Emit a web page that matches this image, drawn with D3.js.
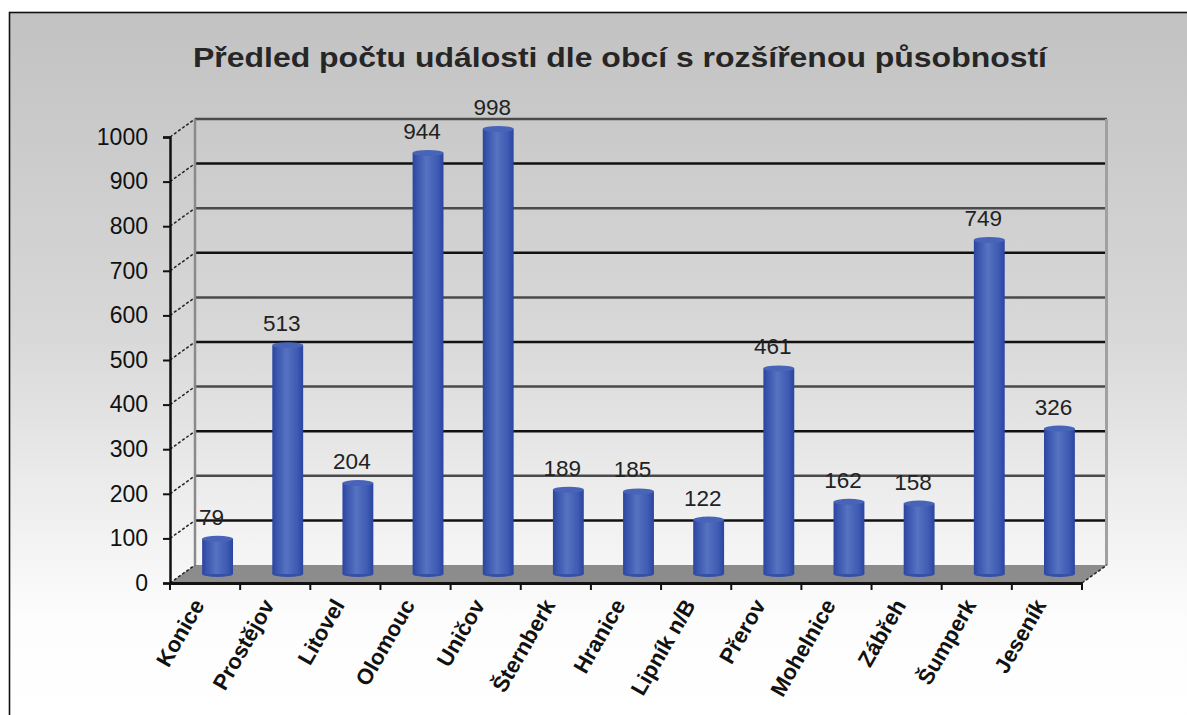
<!DOCTYPE html>
<html>
<head>
<meta charset="utf-8">
<script src="https://cdn.jsdelivr.net/npm/d3@7"></script>
<style>
  body { margin: 0; background: #fff; }
  svg text { font-family: Arial, "Liberation Sans", sans-serif; }
</style>
</head>
<body>
<script>
const title = "Předled počtu události dle obcí s rozšířenou působností";
const categories = ["Konice", "Prostějov", "Litovel", "Olomouc", "Uničov", "Šternberk", "Hranice",
  "Lipník n/B", "Přerov", "Mohelnice", "Zábřeh", "Šumperk", "Jeseník"];
const values = [79, 513, 204, 944, 998, 189, 185, 122, 461, 162, 158, 749, 326];
const yTicks = [0, 100, 200, 300, 400, 500, 600, 700, 800, 900, 1000];

const W = 1187, H = 715;
const plotLeft = 170, plotRight = 1082, plotBottom = 583, plotTop = 137;
const depth = { dx: 25, dy: -18 };

const svg = d3.select("body").append("svg")
  .attr("width", W)
  .attr("height", H);

const defs = svg.append("defs");
const bg = defs.append("linearGradient").attr("id", "bg")
  .attr("x1", 0).attr("y1", 0).attr("x2", 0).attr("y2", 1);
bg.append("stop").attr("offset", "0%").attr("stop-color", "#c2c2c2");
bg.append("stop").attr("offset", "45%").attr("stop-color", "#d8d8d8");
bg.append("stop").attr("offset", "85%").attr("stop-color", "#fdfdfd");
bg.append("stop").attr("offset", "100%").attr("stop-color", "#ffffff");

const cyl = defs.append("linearGradient").attr("id", "cyl")
  .attr("x1", 0).attr("y1", 0).attr("x2", 1).attr("y2", 0);
cyl.append("stop").attr("offset", "0%").attr("stop-color", "#2c45a0");
cyl.append("stop").attr("offset", "15%").attr("stop-color", "#3a56ae");
cyl.append("stop").attr("offset", "45%").attr("stop-color", "#5672c0");
cyl.append("stop").attr("offset", "80%").attr("stop-color", "#3f5bb3");
cyl.append("stop").attr("offset", "100%").attr("stop-color", "#2a44a0");

// chart area background and frame
svg.append("rect")
  .attr("x", 9.5).attr("y", 12.5)
  .attr("width", W).attr("height", H)
  .attr("fill", "url(#bg)")
  .attr("stroke", "#111")
  .attr("stroke-width", 1.6);

svg.append("text")
  .attr("x", 620).attr("y", 67)
  .attr("text-anchor", "middle")
  .attr("font-size", 27)
  .attr("font-weight", "bold")
  .attr("fill", "#262626")
  .attr("textLength", 854)
  .attr("lengthAdjust", "spacingAndGlyphs")
  .text(title);

// Scales
const x = d3.scaleBand().domain(categories).range([plotLeft, plotRight]).padding(0);
const y = d3.scaleLinear().domain([0, 1000]).range([plotBottom, plotTop]);

// floor
svg.append("polygon")
  .attr("points", [[plotLeft, plotBottom], [plotRight, plotBottom],
    [plotRight + depth.dx, plotBottom + depth.dy], [plotLeft + depth.dx, plotBottom + depth.dy]].join(" "))
  .attr("fill", "#8c8c8c");

// back wall gridlines
svg.append("g")
  .selectAll("line")
  .data(yTicks.filter((d) => d > 0))
  .enter()
  .append("line")
  .attr("x1", plotLeft + depth.dx)
  .attr("x2", plotRight + depth.dx)
  .attr("y1", (d) => y(d) + depth.dy)
  .attr("y2", (d) => y(d) + depth.dy)
  .attr("stroke", (d, i) => (i % 2 === 0 ? "#111" : "#4a4a4a"))
  .attr("stroke-width", 2.5);

// side wall diagonals
svg.append("g")
  .selectAll("line")
  .data(yTicks)
  .enter()
  .append("line")
  .attr("x1", plotLeft)
  .attr("x2", plotLeft + depth.dx)
  .attr("y1", (d) => y(d))
  .attr("y2", (d) => y(d) + depth.dy)
  .attr("stroke", "#222")
  .attr("stroke-width", 1.5)
  .attr("stroke-dasharray", "3,2");

// wall edges
svg.append("line")
  .attr("x1", plotLeft + depth.dx).attr("x2", plotLeft + depth.dx)
  .attr("y1", y(1000) + depth.dy).attr("y2", plotBottom + depth.dy)
  .attr("stroke", "#8a8a8a").attr("stroke-width", 2.5);
svg.append("line")
  .attr("x1", plotRight + depth.dx - 0.5).attr("x2", plotRight + depth.dx - 0.5)
  .attr("y1", y(1000) + depth.dy).attr("y2", plotBottom + depth.dy)
  .attr("stroke", "#a0a0a0").attr("stroke-width", 3);
svg.append("line")
  .attr("x1", plotRight).attr("x2", plotRight + depth.dx)
  .attr("y1", plotBottom).attr("y2", plotBottom + depth.dy)
  .attr("stroke", "#222").attr("stroke-width", 1.5)
  .attr("stroke-dasharray", "3,2");

// Bars (cylinders at mid depth)
const bw = x.bandwidth() * 0.44;
const off = { dx: depth.dx / 2, dy: depth.dy / 2 };
const cx = (d, i) => x(categories[i]) + x.bandwidth() / 2 + off.dx;
const bars = svg.append("g")
  .selectAll("g")
  .data(values)
  .enter()
  .append("g");

bars.append("ellipse")
  .attr("cx", cx)
  .attr("cy", y(0) + off.dy)
  .attr("rx", bw / 2)
  .attr("ry", 3)
  .attr("fill", "#3550a8");
bars.append("rect")
  .attr("x", (d, i) => cx(d, i) - bw / 2)
  .attr("y", (d) => y(d) + off.dy)
  .attr("width", bw)
  .attr("height", (d) => y(0) - y(d))
  .attr("fill", "url(#cyl)");
bars.append("ellipse")
  .attr("cx", cx)
  .attr("cy", (d) => y(d) + off.dy)
  .attr("rx", bw / 2)
  .attr("ry", 3)
  .attr("fill", "#4864b8");

// value labels
bars.append("text")
  .attr("x", (d, i) => cx(d, i) - 6)
  .attr("y", (d) => y(d) + off.dy - 14)
  .attr("text-anchor", "middle")
  .attr("font-size", 22.5)
  .attr("fill", "#222")
  .text((d) => d);

// Axes
const yAxis = d3.axisLeft(y).tickValues(yTicks).tickFormat(d3.format("d")).tickSize(7).tickPadding(15);
const gy = svg.append("g")
  .attr("transform", `translate(${plotLeft}, 0)`)
  .call(yAxis);
gy.select(".domain").attr("stroke", "#111").attr("stroke-width", 2.5);
gy.selectAll(".tick line").attr("stroke", "#111").attr("stroke-width", 2);
gy.selectAll(".tick text")
  .attr("font-size", 23)
  .attr("fill", "#111")
  .attr("font-family", "Arial, 'Liberation Sans', sans-serif");

const xAxis = d3.axisBottom(x).tickSize(0).tickPadding(0);
const gx = svg.append("g")
  .attr("transform", `translate(0, ${plotBottom})`)
  .call(xAxis);
gx.select(".domain").attr("stroke", "#111").attr("stroke-width", 3);
gx.selectAll(".tick text")
  .attr("font-size", 22)
  .attr("font-weight", "bold")
  .attr("fill", "#111")
  .attr("font-family", "Arial, 'Liberation Sans', sans-serif")
  .attr("text-anchor", "end")
  .attr("dy", 0)
  .attr("transform", "translate(0, 22) rotate(-60)");

// tick marks at category boundaries
svg.append("g")
  .selectAll("line")
  .data(categories.concat(["_end"]))
  .enter()
  .append("line")
  .attr("x1", (d, i) => plotLeft + i * x.step())
  .attr("x2", (d, i) => plotLeft + i * x.step())
  .attr("y1", plotBottom)
  .attr("y2", plotBottom + 7)
  .attr("stroke", "#111")
  .attr("stroke-width", 2);
</script>
</body>
</html>
